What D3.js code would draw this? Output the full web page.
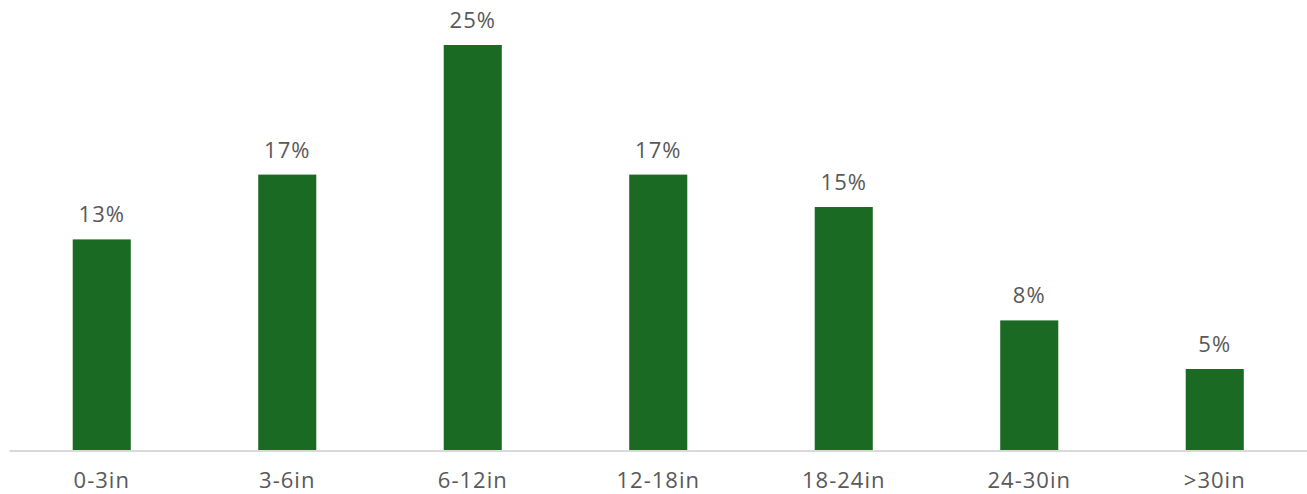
<!DOCTYPE html>
<html>
<head>
<meta charset="utf-8">
<script src="https://cdn.jsdelivr.net/npm/d3@7"></script>
<style>
  html, body { margin: 0; padding: 0; background: #ffffff; }
  svg { display: block; }
  text { font-family: "Open Sans", "Noto Sans", sans-serif; fill: #595959; letter-spacing: 1px; }
</style>
</head>
<body>
<svg id="chart" width="1307" height="494"></svg>
<script>
// Share of readings by size bucket
const categories = ["0-3in", "3-6in", "6-12in", "12-18in", "18-24in", "24-30in", ">30in"];
const shares = [0.13, 0.17, 0.25, 0.17, 0.15, 0.08, 0.05];

const width = 1307, height = 494;
const baseline = 450;
const svg = d3.select("#chart");

const x = d3.scaleBand()
  .domain(categories)
  .range([9, 1307.5])
  .paddingInner(0.687)
  .paddingOuter(0.3435);

const y = d3.scaleLinear()
  .domain([0, 0.25])
  .range([baseline, 45]);

const data = categories.map((c, i) => ({ cat: c, v: shares[i] }));

// bars
svg.append("g")
  .selectAll("rect")
  .data(data)
  .join("rect")
  .attr("x", d => x(d.cat))
  .attr("y", d => y(d.v))
  .attr("width", x.bandwidth())
  .attr("height", d => y(0) - y(d.v))
  .attr("fill", "#1b6a23");

// value labels
const fmt = d3.format(".0%");
svg.append("g")
  .selectAll("text")
  .data(data)
  .join("text")
  .attr("x", d => x(d.cat) + x.bandwidth() / 2)
  .attr("y", d => y(d.v) - 17)
  .attr("text-anchor", "middle")
  .attr("font-size", 22)
  .text(d => fmt(d.v));

// category axis
const axis = svg.append("g")
  .attr("transform", `translate(0,${baseline + 1})`)
  .call(d3.axisBottom(x).tickSize(0).tickPadding(21));
axis.select(".domain")
  .attr("d", "M9.5,0H1307")
  .attr("stroke", "#d9d9d9")
  .attr("stroke-width", 2);
axis.selectAll("text")
  .attr("font-size", 22)
  .attr("font-family", "\"Open Sans\", \"Noto Sans\", sans-serif")
  .attr("fill", "#595959");
</script>
</body>
</html>
